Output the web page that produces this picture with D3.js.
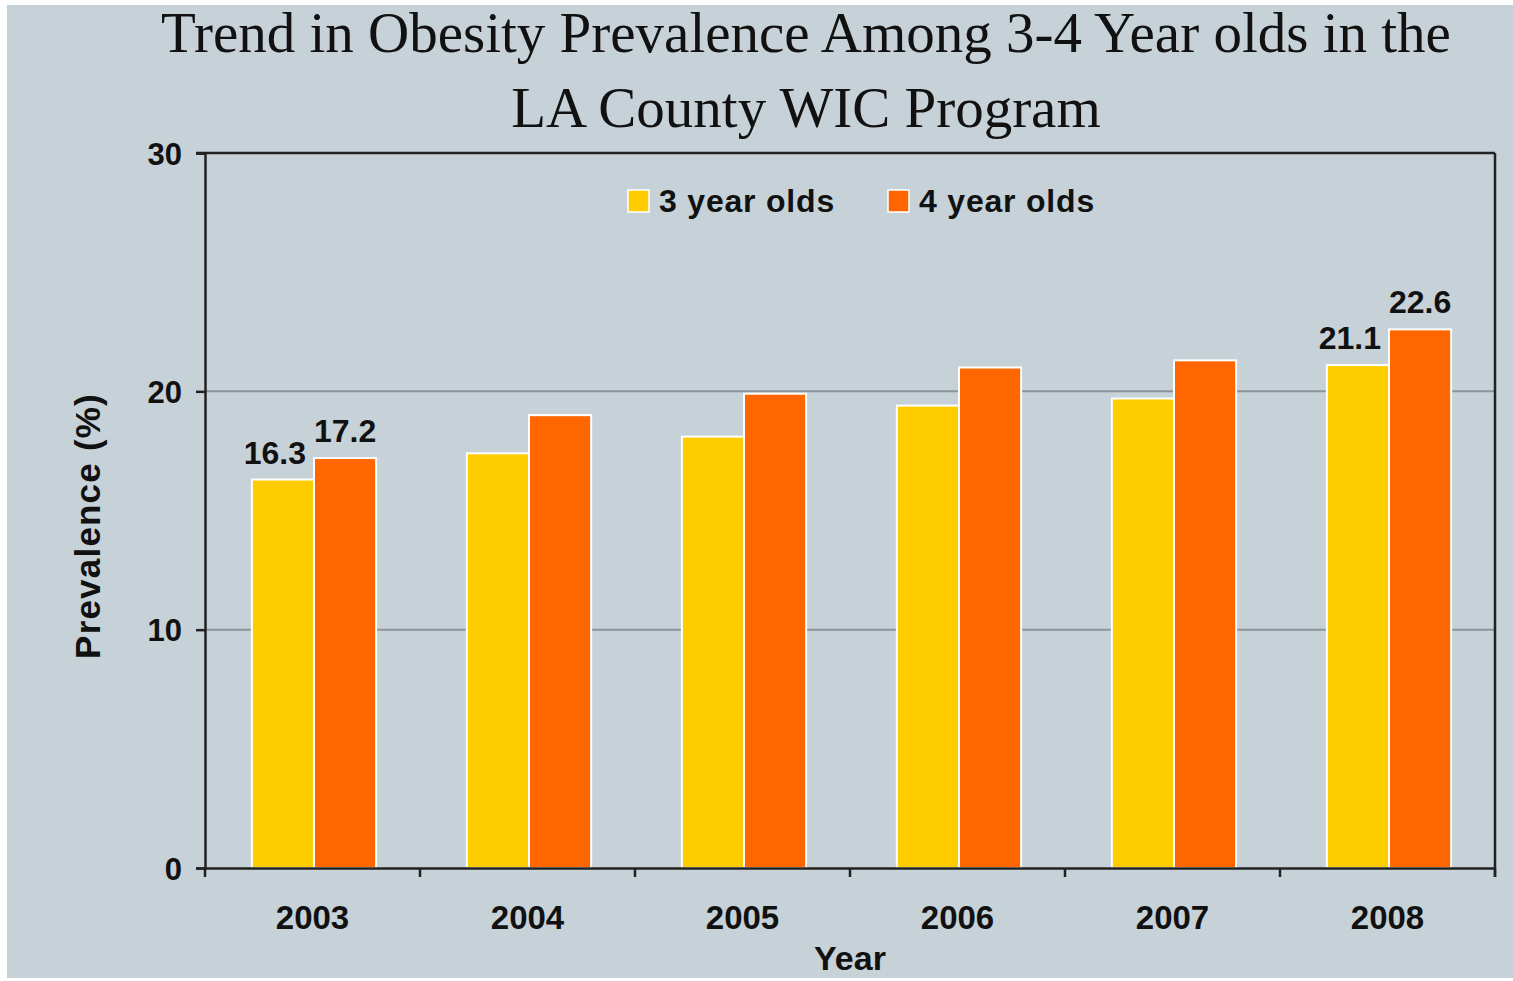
<!DOCTYPE html>
<html><head><meta charset="utf-8">
<script src="https://cdn.jsdelivr.net/npm/d3@7"></script>
<style>html,body{margin:0;padding:0;background:#fff;}svg{display:block;}</style>
</head><body>
<script>
const years = ["2003","2004","2005","2006","2007","2008"];
const series = ["3 year olds","4 year olds"];
const threeYearOlds = [16.3, 17.4, 18.1, 19.4, 19.7, 21.1];
const fourYearOlds  = [17.2, 19.0, 19.9, 21.0, 21.3, 22.6];
const yTicks = [0, 10, 20, 30];
const labelledYears = ["2003","2008"];
const colors = ["#ffcc00", "#ff6600"];
const titleLines = ["Trend in Obesity Prevalence Among 3-4 Year olds in the", "LA County WIC Program"];

const W = 1513, H = 981;
const svg = d3.select("body").append("svg").attr("width", W).attr("height", H);
svg.append("rect").attr("x",7).attr("y",5).attr("width",1506).attr("height",973).attr("fill","#c6d1d8");

const L = 205, R = 1495, T = 153, B = 868;
const x = d3.scaleBand().domain(years).range([L, R]).padding(0);
const xs = d3.scaleBand().domain(series).range([0, x.bandwidth()]).paddingInner(0).paddingOuter(0.73);
const y = d3.scaleLinear().domain([0, 30]).range([B, T]);

// gridlines
svg.append("g").selectAll("line").data(yTicks.filter(d => d > 0 && d < 30)).join("line")
  .attr("x1", L).attr("x2", R).attr("y1", d => y(d)).attr("y2", d => y(d))
  .attr("stroke", "#8c9399").attr("stroke-width", 2);

// bars
const data = years.map((yr, i) => ({year: yr, vals: [threeYearOlds[i], fourYearOlds[i]]}));
const groups = svg.append("g").selectAll("g").data(data).join("g")
  .attr("transform", d => `translate(${x(d.year) + 1.5},0)`);
groups.selectAll("rect").data(d => d.vals.map((v, j) => ({s: series[j], v, j}))).join("rect")
  .attr("x", d => xs(d.s)).attr("width", xs.bandwidth())
  .attr("y", d => y(d.v)).attr("height", d => y(0) - y(d.v))
  .attr("fill", d => colors[d.j]).attr("stroke", "#ffffff").attr("stroke-width", 2);

// frame top & right
svg.append("line").attr("x1", L - 9).attr("x2", R).attr("y1", T).attr("y2", T).attr("stroke", "#222").attr("stroke-width", 2.5);
svg.append("line").attr("x1", R).attr("x2", R).attr("y1", T).attr("y2", B + 9).attr("stroke", "#222").attr("stroke-width", 2.5);

// y axis
const yAxis = svg.append("g").attr("transform", `translate(${L},0)`)
  .call(d3.axisLeft(y).tickValues(yTicks).tickSize(9).tickPadding(14).tickFormat(d3.format("d")));
yAxis.select(".domain").attr("stroke", "#222").attr("stroke-width", 2.5);
yAxis.selectAll(".tick line").attr("stroke", "#222").attr("stroke-width", 2.5);
yAxis.selectAll("text").attr("font-family", "Liberation Sans, Arial, sans-serif").attr("font-weight", "bold")
  .attr("font-size", 31).attr("fill", "#111").attr("dy", "0.36em");

// x axis
const xAxis = svg.append("g").attr("transform", `translate(0,${B})`)
  .call(d3.axisBottom(x).tickSize(0).tickPadding(49));
xAxis.select(".domain").attr("stroke", "#222").attr("stroke-width", 2.5);
xAxis.selectAll("text").attr("font-family", "Liberation Sans, Arial, sans-serif").attr("font-weight", "bold")
  .attr("font-size", 33).attr("fill", "#111").attr("dy", "0.35em");
const bounds = years.map(yr => x(yr)).concat([R]);
svg.append("g").selectAll("line").data(bounds).join("line")
  .attr("x1", d => d).attr("x2", d => d).attr("y1", B).attr("y2", B + 9)
  .attr("stroke", "#222").attr("stroke-width", 2.5);

// data labels
const lab = svg.append("g").attr("font-family", "Liberation Sans, Arial, sans-serif").attr("font-weight", "bold")
  .attr("font-size", 32).attr("fill", "#111");
data.filter(d => labelledYears.includes(d.year)).forEach(d => {
  d.vals.forEach((v, j) => {
    const bx = x(d.year) + 1.5 + xs(series[j]);
    lab.append("text")
      .attr("x", j === 0 ? bx + xs.bandwidth() - 8 : bx + xs.bandwidth() / 2)
      .attr("y", y(v) - 16)
      .attr("text-anchor", j === 0 ? "end" : "middle")
      .text(d3.format(".1f")(v));
  });
});

// legend
const legX = [628, 888];
const leg = svg.append("g");
series.forEach((s, i) => {
  leg.append("rect").attr("x", legX[i]).attr("y", 190).attr("width", 21).attr("height", 22)
    .attr("fill", colors[i]).attr("stroke", "#fff").attr("stroke-width", 1.5);
  leg.append("text").attr("x", legX[i] + 31).attr("y", 212)
    .attr("font-family", "Liberation Sans, Arial, sans-serif").attr("font-weight", "bold")
    .attr("font-size", 32).attr("letter-spacing", 0.8).attr("fill", "#111").text(s);
});

// axis titles
svg.append("text").attr("transform", "translate(100,526) rotate(-90)").attr("text-anchor", "middle")
  .attr("font-family", "Liberation Sans, Arial, sans-serif").attr("font-weight", "bold")
  .attr("font-size", 35).attr("letter-spacing", 1.2).attr("fill", "#111").text("Prevalence (%)");
svg.append("text").attr("x", (L + R) / 2).attr("y", 970).attr("text-anchor", "middle")
  .attr("font-family", "Liberation Sans, Arial, sans-serif").attr("font-weight", "bold")
  .attr("font-size", 34).attr("fill", "#111").text("Year");

// title
svg.append("g").selectAll("text").data(titleLines).join("text")
  .attr("x", 806).attr("y", (d, i) => 52 + i * 75).attr("text-anchor", "middle")
  .attr("font-family", "Liberation Serif, Times New Roman, serif")
  .attr("font-size", 57).attr("fill", "#111").text(d => d);
</script>
</body></html>
